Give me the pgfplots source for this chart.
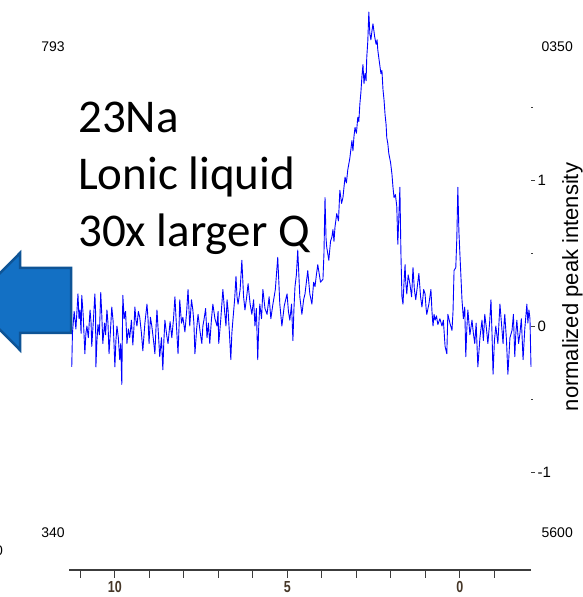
\documentclass[border=0pt]{standalone}
\usepackage{pgfplots}
\pgfplotsset{compat=1.18}
\usepackage{graphicx}
\usepackage{fontspec}
\setmainfont{Carlito}
\newfontfamily\arial{Liberation Sans}
\definecolor{arrowfill}{RGB}{19,112,196}
\definecolor{arrowedge}{RGB}{14,84,150}
\definecolor{axgray}{RGB}{60,60,60}
\definecolor{ticklab}{RGB}{70,55,40}
\pgfplotstableread{
x y
11.25 -0.28
11.23 -0.05
11.18 0.10
11.13 -0.02
11.07 0.22
11.04 0.05
11.01 0.11
10.98 -0.05
10.96 0.21
10.92 0.08
10.87 -0.19
10.84 -0.05
10.81 0.00
10.77 -0.08
10.72 0.11
10.69 0.02
10.67 -0.14
10.62 0.05
10.58 0.22
10.56 0.10
10.55 -0.28
10.52 -0.10
10.49 0.01
10.45 -0.06
10.41 0.23
10.38 0.08
10.35 -0.12
10.30 0.02
10.27 -0.06
10.23 0.11
10.20 0.02
10.17 -0.19
10.13 -0.04
10.09 0.13
10.05 0.03
10.00 -0.28
9.97 -0.10
9.94 0.00
9.90 -0.08
9.86 -0.23
9.83 -0.12
9.80 -0.40
9.77 0.21
9.73 0.05
9.69 0.10
9.65 -0.12
9.61 -0.02
9.57 -0.08
9.52 0.04
9.48 -0.13
9.45 -0.02
9.42 0.13
9.39 0.04
9.36 0.00
9.32 0.10
9.28 0.06
9.23 -0.05
9.19 -0.17
9.13 0.02
9.07 0.15
9.04 0.05
9.01 -0.12
8.97 0.06
8.93 0.00
8.88 -0.10
8.84 -0.19
8.81 -0.02
8.78 0.11
8.74 -0.05
8.70 -0.21
8.65 -0.08
8.61 -0.30
8.58 -0.10
8.55 0.04
8.50 -0.06
8.46 -0.12
8.40 0.03
8.35 -0.08
8.30 0.05
8.26 0.20
8.22 0.02
8.17 -0.19
8.14 0.00
8.12 0.18
8.07 0.02
8.03 0.06
7.97 -0.04
7.92 0.10
7.88 0.25
7.85 0.10
7.83 0.00
7.78 0.18
7.74 0.11
7.71 0.02
7.68 -0.19
7.63 -0.02
7.59 0.08
7.53 -0.04
7.48 -0.12
7.45 0.00
7.42 0.04
7.37 0.12
7.33 -0.08
7.29 0.02
7.25 -0.12
7.20 0.05
7.16 0.15
7.10 0.05
7.04 0.00
7.01 0.10
6.99 -0.12
6.93 0.05
6.87 0.25
6.82 0.10
6.78 0.00
6.75 0.18
6.72 0.11
6.68 -0.05
6.64 -0.23
6.61 -0.05
6.58 0.04
6.53 0.18
6.49 0.34
6.46 0.20
6.43 0.15
6.37 0.25
6.32 0.45
6.27 0.20
6.23 0.11
6.18 0.20
6.14 0.29
6.08 0.15
6.03 0.08
5.98 0.18
5.94 0.00
5.90 0.12
5.86 -0.23
5.83 0.00
5.80 0.15
5.75 0.05
5.71 0.25
5.65 0.12
5.59 0.08
5.53 0.20
5.48 0.05
5.42 0.15
5.35 0.25
5.28 0.47
5.22 0.15
5.16 0.00
5.09 0.14
5.01 0.22
4.97 0.10
4.93 0.04
4.88 0.15
4.84 -0.10
4.81 0.12
4.78 0.27
4.74 0.35
4.70 0.52
4.64 0.20
4.58 0.08
4.53 0.18
4.49 0.22
4.45 0.30
4.41 0.38
4.35 0.22
4.29 0.15
4.24 0.30
4.20 0.27
4.16 0.35
4.12 0.42
4.04 0.30
3.97 0.32
3.94 0.50
3.91 0.88
3.88 0.60
3.86 0.54
3.80 0.45
3.75 0.58
3.71 0.61
3.68 0.66
3.65 0.58
3.62 0.68
3.57 0.77
3.52 0.72
3.48 0.93
3.43 0.84
3.39 0.88
3.33 1.02
3.29 0.98
3.25 1.07
3.19 1.15
3.13 1.27
3.10 1.20
3.07 1.30
3.04 1.36
3.00 1.32
2.96 1.43
2.93 1.40
2.90 1.52
2.87 1.60
2.84 1.71
2.81 1.79
2.78 1.66
2.75 1.73
2.72 1.68
2.70 1.84
2.67 1.95
2.64 2.15
2.61 2.00
2.58 1.96
2.55 2.02
2.52 2.07
2.47 1.98
2.43 1.93
2.40 1.96
2.38 1.89
2.33 1.80
2.29 1.73
2.26 1.75
2.23 1.62
2.20 1.55
2.17 1.45
2.14 1.38
2.12 1.29
2.09 1.25
2.06 1.18
2.01 1.12
1.97 1.04
1.94 0.95
1.91 0.88
1.87 0.90
1.83 0.82
1.80 0.56
1.77 0.75
1.74 0.95
1.71 0.50
1.68 0.20
1.65 0.15
1.62 0.30
1.59 0.42
1.57 0.30
1.54 0.22
1.50 0.35
1.45 0.29
1.40 0.20
1.36 0.40
1.32 0.25
1.28 0.18
1.23 0.28
1.19 0.36
1.14 0.20
1.10 0.13
1.05 0.25
1.01 0.22
0.98 0.12
0.96 0.08
0.90 0.15
0.84 0.25
0.81 0.10
0.78 0.00
0.75 0.08
0.72 0.04
0.68 0.07
0.64 0.01
0.58 0.05
0.52 0.00
0.48 0.04
0.43 -0.14
0.38 -0.19
0.35 0.08
0.29 0.02
0.23 -0.03
0.20 0.10
0.17 0.38
0.12 0.40
0.09 0.60
0.06 0.95
0.03 0.65
0.00 0.49
-0.06 0.18
-0.10 0.05
-0.14 0.13
-0.17 -0.21
-0.20 -0.02
-0.23 0.11
-0.29 -0.06
-0.35 0.04
-0.39 -0.05
-0.43 -0.12
-0.47 0.02
-0.52 -0.28
-0.58 -0.08
-0.64 0.04
-0.68 -0.10
-0.72 0.08
-0.77 -0.02
-0.81 -0.12
-0.86 0.02
-0.90 0.18
-0.93 -0.05
-0.96 -0.33
-1.00 -0.10
-1.04 0.00
-1.10 -0.12
-1.16 0.15
-1.21 0.00
-1.25 -0.12
-1.28 0.02
-1.30 0.08
-1.35 -0.10
-1.39 -0.33
-1.45 -0.08
-1.51 -0.03
-1.55 0.08
-1.59 -0.21
-1.62 -0.05
-1.65 0.04
-1.70 -0.12
-1.74 -0.05
-1.78 0.05
-1.83 -0.23
-1.88 -0.02
-1.94 0.15
-1.97 0.02
-2.00 0.11
-2.03 0.05
-2.06 -0.28
}\spectrum
\begin{document}
\begin{tikzpicture}[x=1pt,y=1pt]
\path[use as bounding box] (0,0) rectangle (583,597);
% arrow
\begin{scope}
\clip (0,0) rectangle (583,597);
\draw[fill=arrowfill, draw=arrowedge, line width=2.5pt, line join=miter]
  (71,329) -- (20,329) -- (20,344) -- (-28,295.5) -- (20,247) -- (20,264) -- (71,264) -- cycle;
\end{scope}
% main axis with data
\begin{axis}[
  at={(69pt,27pt)}, anchor=south west, scale only axis,
  width=462pt, height=563pt,
  x dir=reverse, xmin=-2.06, xmax=11.33, ymin=-1.671, ymax=2.185,
  axis x line=bottom, hide y axis,
  x axis line style={-, draw=axgray, line width=1.3pt},
  xtick={0,5,10},
  xticklabels={\scalebox{0.78}[1]{0},\scalebox{0.78}[1]{5},\scalebox{0.78}[1]{10}},
  minor xtick={-1,1,2,3,4,6,7,8,9,11},
  tick align=outside, major tick length=8pt, minor tick length=8pt,
  every tick/.style={draw=axgray, line width=1pt},
  xticklabel style={font=\arial\bfseries\fontsize{16}{16}\selectfont, text=ticklab, anchor=north, inner sep=0pt, yshift=-3pt},
  clip=false,
]
\addplot[color=blue, line width=0.9pt, line join=round] table[x=x,y=y] {\spectrum};
\end{axis}
% right y axis
\begin{axis}[
  at={(69pt,27pt)}, anchor=south west, scale only axis,
  width=462pt, height=563pt,
  xmin=0, xmax=1, ymin=-1.671, ymax=2.185,
  hide x axis, axis y line=right,
  y axis line style={draw=none},
  ytick={-1,0,1}, yticklabels={-1,0,1},
  minor ytick={-0.5,0.5,1.5},
  tick align=outside, major tick length=4pt, minor tick length=1.5pt,
  every tick/.style={draw=axgray, line width=1pt},
  yticklabel style={font=\arial\fontsize{15}{15}\selectfont, text=black, xshift=-1pt},
]
\end{axis}
% corner labels
\node[font=\arial\fontsize{14}{14}\selectfont] at (53,550) {793};
\node[font=\arial\fontsize{14}{14}\selectfont] at (53,64) {340};
\begin{scope}
\clip (538,0) rectangle (583,597);
\node[font=\arial\fontsize{14}{14}\selectfont, anchor=east, inner sep=0pt] at (573,550) {0350};
\node[font=\arial\fontsize{14}{14}\selectfont, anchor=east, inner sep=0pt] at (573,64) {5600};
\end{scope}
\node[font=\arial\fontsize{14}{14}\selectfont, anchor=east, inner sep=0pt] at (3,46) {0};
% big text
\node[anchor=base west, inner sep=0pt, font=\fontsize{47}{57}\selectfont] at (78,464) {23Na};
\node[anchor=base west, inner sep=0pt, font=\fontsize{47}{57}\selectfont] at (78,407) {Lonic liquid};
\node[anchor=base west, inner sep=0pt, font=\fontsize{47}{57}\selectfont] at (78,350) {30x larger Q};
% right label
\node[rotate=90, anchor=base, inner sep=0pt, font=\arial\fontsize{22}{22}\selectfont] at (578,310) {normalized peak intensity};
\end{tikzpicture}
\end{document}
